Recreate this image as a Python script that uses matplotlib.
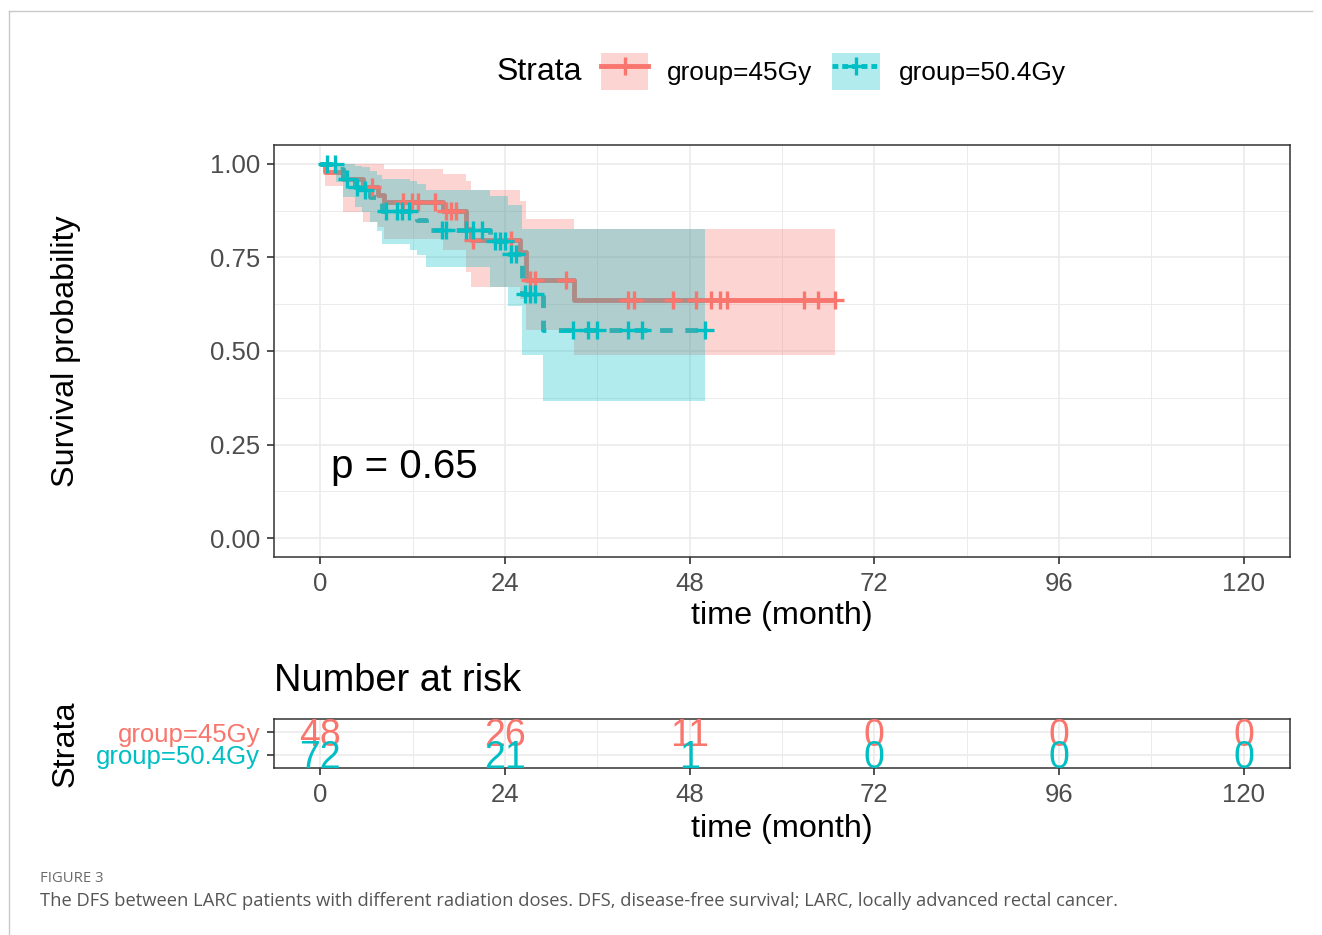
import numpy as np
import matplotlib
matplotlib.use('Agg')
import matplotlib.pyplot as plt
from matplotlib.patches import Patch
from matplotlib.lines import Line2D
from matplotlib.legend_handler import HandlerTuple
from matplotlib.transforms import offset_copy

plt.rcParams['font.family'] = ['Liberation Sans', 'DejaVu Sans']

# --- data ---
red_time  = [0, 0.6, 3.0, 5.5, 7.5, 8.3, 16.0, 19.0, 19.6, 25.9, 26.7, 33.0]
red_surv  = [1.0, 0.979, 0.958, 0.938, 0.917, 0.897, 0.873, 0.826, 0.796, 0.764, 0.689, 0.637]
red_upper = [1.0, 1.0, 1.0, 1.0, 1.0, 0.987, 0.973, 0.955, 0.93, 0.90, 0.853, 0.826]
red_lower = [1.0, 0.94, 0.87, 0.845, 0.83, 0.80, 0.77, 0.71, 0.67, 0.64, 0.555, 0.49]
red_end   = 66.9
red_censor = [6.7, 10.8, 11.9, 12.7, 14.9, 16.4, 17.0, 17.6, 19.9, 24.8, 27.2, 27.9,
              31.9, 40.0, 40.8, 45.8, 48.8, 50.8, 51.9, 52.8, 62.8, 64.7, 66.9]

teal_time  = [0, 2.1, 3.0, 4.5, 5.4, 6.5, 7.4, 8.0, 11.7, 12.6, 13.8, 22.0, 24.4, 26.2, 29.0]
teal_surv  = [1.0, 0.986, 0.958, 0.938, 0.93, 0.912, 0.894, 0.875, 0.86, 0.85, 0.823, 0.793, 0.759, 0.653, 0.555]
teal_upper = [1.0, 1.0, 1.0, 0.995, 0.99, 0.98, 0.97, 0.96, 0.955, 0.945, 0.93, 0.915, 0.89, 0.826, 0.826]
teal_lower = [1.0, 0.95, 0.91, 0.885, 0.87, 0.845, 0.82, 0.786, 0.77, 0.755, 0.723, 0.67, 0.62, 0.49, 0.366]
teal_end   = 50.0
teal_censor = [0.9, 1.9, 3.5, 4.8, 5.8, 8.6, 10.0, 10.6, 11.5, 15.8, 16.3, 19.0, 19.9, 21.0,
               22.7, 23.4, 24.0, 24.8, 25.5, 26.6, 27.2, 27.9, 32.9, 34.8, 35.9, 40.0, 41.8, 50.0]

risk_times = [0, 24, 48, 72, 96, 120]
risk_red   = [48, 26, 11, 0, 0, 0]
risk_teal  = [72, 21, 1, 0, 0, 0]

labels = ['group=45Gy', 'group=50.4Gy']
pval_text = 'p = 0.65'

RED, TEAL = '#F8766D', '#00BFC4'
TICKC, LINEC, GRIDC = '#4D4D4D', '#333333', '#EBEBEB'

W, H = 1322, 935
fig = plt.figure(figsize=(W / 100, H / 100), dpi=100)
ax = fig.add_axes([274 / W, 1 - 557 / H, 1016 / W, 412 / H])
axr = fig.add_axes([274 / W, 1 - 768 / H, 1016 / W, 49 / H])

# light frame around the figure panel
fig.add_artist(Line2D([9 / W, 1312 / W], [1 - 11 / H, 1 - 11 / H], color='#c8c8c8', lw=1))
fig.add_artist(Line2D([9 / W, 9 / W], [1 - 11 / H, 0], color='#c8c8c8', lw=1))


def extend(t, v, end):
    return np.append(t, end), np.append(v, v[-1])


def at(times, surv, x):
    idx = np.searchsorted(times, x, side='right') - 1
    return np.asarray(surv)[idx]


groups = [
    (RED, red_time, red_surv, red_lower, red_upper, red_end, red_censor, '-'),
    (TEAL, teal_time, teal_surv, teal_lower, teal_upper, teal_end, teal_censor, (0, (2.6, 2.6))),
]

# lines first, ribbons on top, censor marks last (ggplot layer order)
for col, t, s, lo, hi, end, cens, ls in groups:
    tt, ss = extend(t, s, end)
    ax.step(tt, ss, where='post', color=col, lw=3.5, ls=ls, zorder=2, solid_capstyle='butt')
for col, t, s, lo, hi, end, cens, ls in groups:
    tt, ll = extend(t, lo, end)
    _, hh = extend(t, hi, end)
    ax.fill_between(tt, ll, hh, step='post', color=col, alpha=0.3, lw=0, zorder=3)
for col, t, s, lo, hi, end, cens, ls in groups:
    ax.plot(cens, at(t, s, cens), ls='none', marker='+', ms=13, mew=2.4, color=col, zorder=4)

ax.text(1.36, 0.19, pval_text, fontsize=29, ha='left', va='center')

xt = [0, 24, 48, 72, 96, 120]
xm = [12, 36, 60, 84, 108]
for a in (ax, axr):
    a.set_xlim(-6, 126)
    a.set_xticks(xt)
    a.set_xticks(xm, minor=True)
    a.set_xticklabels([str(v) for v in xt])
    a.grid(which='major', color=GRIDC, lw=1.2)
    a.grid(which='minor', color=GRIDC, lw=0.7)
    a.set_axisbelow(True)
    a.tick_params(which='major', length=5, width=1.2, color=LINEC, labelsize=18.5,
                  labelcolor=TICKC)
    a.tick_params(axis='x', pad=6)
    a.tick_params(axis='y', pad=5)
    a.tick_params(which='minor', length=0)
    for sp in a.spines.values():
        sp.set_color(LINEC)
        sp.set_linewidth(1.1)
    a.set_xlabel('time (month)', fontsize=23.3, va='center')
    a.xaxis.set_label_coords(0.5, -0.143 if a is ax else -1.245)

ax.set_ylim(-0.05, 1.05)
ax.set_yticks([0, 0.25, 0.5, 0.75, 1.0])
ax.set_yticks([0.125, 0.375, 0.625, 0.875], minor=True)
ax.set_yticklabels(['0.00', '0.25', '0.50', '0.75', '1.00'])
ax.set_ylabel('Survival probability', fontsize=23.3, va='center')
ax.yaxis.set_label_coords(-0.205, 0.5)

# risk table
axr.set_ylim(0.4, 2.6)
axr.set_yticks([2, 1])
axr.set_yticklabels(labels)
for lab, col in zip(axr.get_yticklabels(), [RED, TEAL]):
    lab.set_color(col)
num_trans = offset_copy(axr.transData, fig=fig, y=-9.6, units='points')
for x, n1, n2 in zip(risk_times, risk_red, risk_teal):
    axr.text(x, 2, str(n1), color=RED, fontsize=27, ha='center', va='baseline',
             transform=num_trans)
    axr.text(x, 1, str(n2), color=TEAL, fontsize=27, ha='center', va='baseline',
             transform=num_trans)
axr.set_ylabel('Strata', fontsize=23.3, va='center')
axr.yaxis.set_label_coords(-0.205, 0.5)
axr.text(0, 1.776, 'Number at risk', transform=axr.transAxes, fontsize=27.4,
         ha='left', va='center')

# legend
h_red = (Patch(facecolor=RED, alpha=0.3, lw=0),
         Line2D([], [], color=RED, lw=3.5, marker='+', ms=13, mew=2.4))
h_teal = (Patch(facecolor=TEAL, alpha=0.3, lw=0),
          Line2D([], [], color=TEAL, lw=3.5, ls=(0, (1.2, 0.8)), marker='+', ms=13, mew=2.4))
fig.legend([h_red, h_teal], labels, handler_map={tuple: HandlerTuple(ndivide=1)},
           loc='center left', bbox_to_anchor=(601 / W, 1 - 71.5 / H), ncol=2,
           frameon=False, fontsize=18.9, handlelength=1.8, handleheight=1.8,
           handletextpad=0.72, columnspacing=0.76, borderpad=0, borderaxespad=0)
fig.text(497 / W, 1 - 72 / H, 'Strata', fontsize=23, ha='left', va='center')

# caption
fig.text(40 / W, 1 - 878 / H, 'FIGURE 3', fontsize=10.7, color='#6a6a6a',
         family=['Open Sans', 'DejaVu Sans'], ha='left', va='center')
fig.text(40 / W, 1 - 901 / H,
         'The DFS between LARC patients with different radiation doses. DFS, disease-free survival; '
         'LARC, locally advanced rectal cancer.',
         fontsize=13.2, color='#555555', family=['Open Sans', 'DejaVu Sans'],
         ha='left', va='center')

fig.savefig('out.png', dpi=100)
